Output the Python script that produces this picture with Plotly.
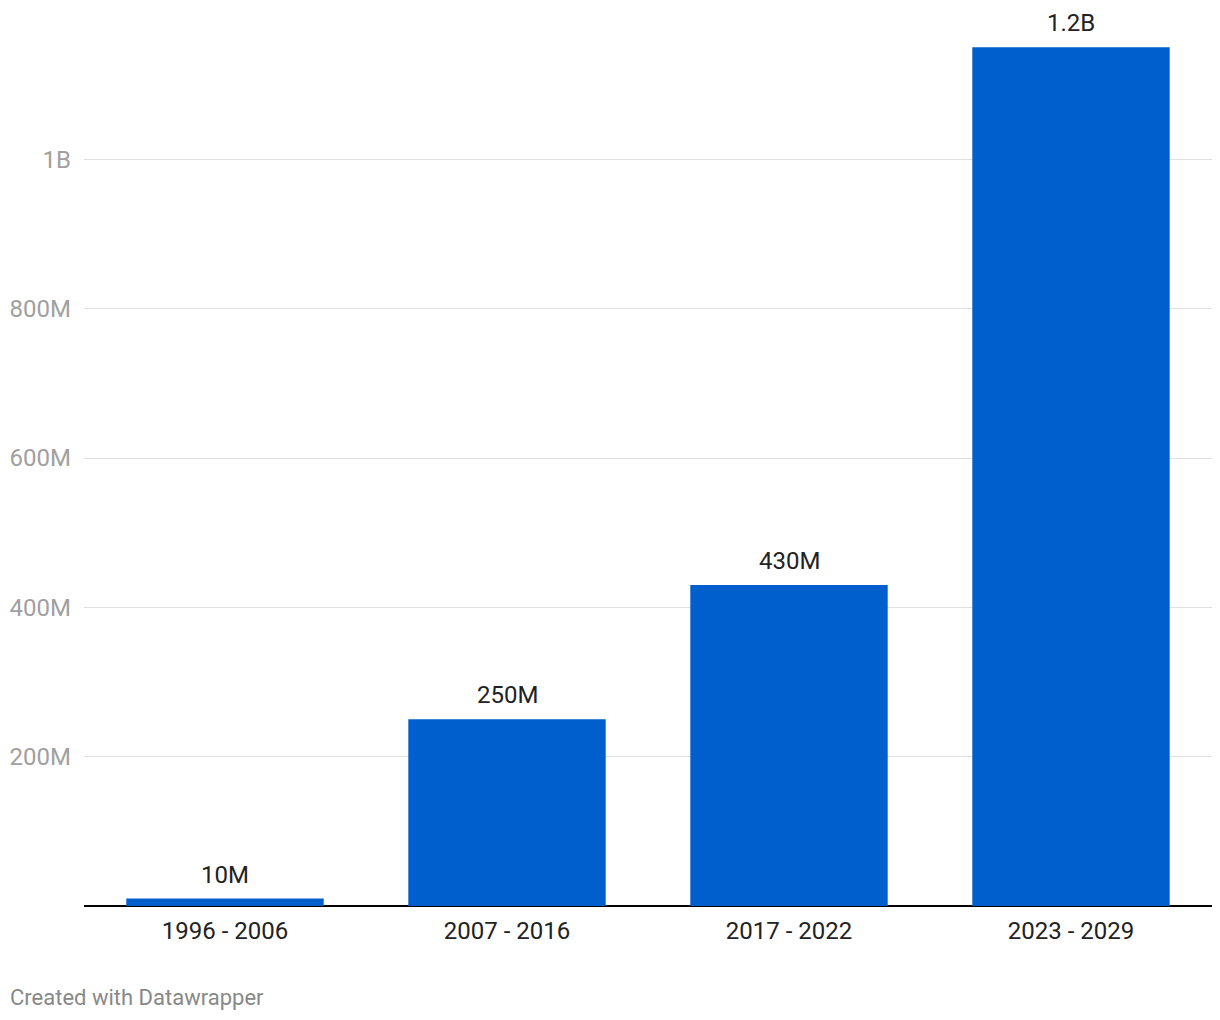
import plotly.graph_objects as go

categories = ["1996 - 2006", "2007 - 2016", "2017 - 2022", "2023 - 2029"]
values = [10_000_000, 250_000_000, 430_000_000, 1_150_000_000]
value_labels = ["10M", "250M", "430M", "1.2B"]
tick_vals = [200_000_000, 400_000_000, 600_000_000, 800_000_000, 1_000_000_000]
tick_text = ["200M", "400M", "600M", "800M", "1B"]

fig = go.Figure(go.Bar(
    x=categories, y=values,
    marker=dict(color="#005fcc", line=dict(width=0)),
    width=0.7, hoverinfo="skip",
))

annotations = [
    dict(x=c, y=v, text=t, xref="x", yref="y", xanchor="center", yanchor="bottom",
         yshift=8, showarrow=False,
         font=dict(family="Roboto", size=24, color="#222222"))
    for c, v, t in zip(categories, values, value_labels)
]
annotations.append(dict(text="Created with Datawrapper", xref="paper", yref="paper",
                        x=-76/1128, y=-91/896, xanchor="left", yanchor="middle",
                        showarrow=False, font=dict(family="Roboto", size=22, color="#888888")))

fig.update_layout(
    width=1220, height=1020,
    margin=dict(l=76, r=16, t=2, b=122),
    paper_bgcolor="white", plot_bgcolor="white",
    font=dict(family="Roboto", size=24, color="#222222"),
    showlegend=False,
    xaxis=dict(range=[-0.5, 3.5], showgrid=False, ticks="", showline=False,
               ticklabelstandoff=8,
               tickfont=dict(family="Roboto", size=24, color="#222222")),
    yaxis=dict(range=[0, 1_200_000_000], tickvals=tick_vals, ticktext=tick_text,
               showgrid=True, gridcolor="#e0e0e0", gridwidth=1,
               zeroline=True, zerolinecolor="#000000", zerolinewidth=2,
               ticks="", showline=False, ticklabelstandoff=12,
               tickfont=dict(family="Roboto", size=24, color="#a0a0a0")),
    annotations=annotations,
)

fig.write_html("out.html")
